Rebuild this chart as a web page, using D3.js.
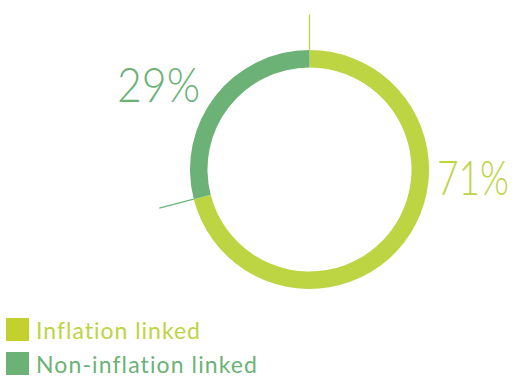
<!DOCTYPE html>
<html>
<head>
<meta charset="utf-8">
<script src="https://cdn.jsdelivr.net/npm/d3@7"></script>
<style>
  html, body { margin: 0; padding: 0; background: #fff; }
  svg { display: block; }
  text { font-variant-ligatures: none; }
</style>
</head>
<body>
<svg id="chart" width="515" height="380"></svg>
<script>
// Share of debt by type
const categories = ["Inflation linked", "Non-inflation linked"];
const shares = [71, 29];
const labels = ["71%", "29%"];
const ringColors = ["#BDD443", "#6CB277"];
const legendColors = ["#C2D12E", "#6CB277"];

const svg = d3.select("#chart");
const cx = 309.5, cy = 169.5;
const outerR = 119.5, innerR = 102, tickR = 155;

const pie = d3.pie().sort(null).value(d => d)(shares);
const arc = d3.arc().innerRadius(innerR).outerRadius(outerR);

const g = svg.append("g").attr("transform", `translate(${cx},${cy})`);

g.selectAll("path.slice")
  .data(pie)
  .join("path")
  .attr("class", "slice")
  .attr("d", arc)
  .attr("fill", (d, i) => ringColors[i]);

// Leader line at the start of each slice
g.selectAll("line.lead")
  .data(pie)
  .join("line")
  .attr("class", "lead")
  .attr("x1", d => Math.sin(d.startAngle) * outerR)
  .attr("y1", d => -Math.cos(d.startAngle) * outerR)
  .attr("x2", d => Math.sin(d.startAngle) * tickR)
  .attr("y2", d => -Math.cos(d.startAngle) * tickR)
  .attr("stroke", (d, i) => ringColors[i])
  .attr("stroke-width", 1.3);

// Percentage labels: tall, narrow light figures
const labelPos = [
  { x: 437 - cx, y: 195 - cy, w: 72 },
  { x: 117 - cx, y: 102 - cy, w: 83 }
];
g.selectAll("text.pct")
  .data(pie)
  .join("text")
  .attr("class", "pct")
  .attr("transform", (d, i) => `translate(${labelPos[i].x},${labelPos[i].y}) scale(1,1.17)`)
  .attr("textLength", (d, i) => labelPos[i].w)
  .attr("lengthAdjust", "spacingAndGlyphs")
  .attr("fill", (d, i) => ringColors[i])
  .style("font-family", "Lato, 'Open Sans', sans-serif")
  .style("font-weight", 300)
  .style("font-size", "40px")
  .text((d, i) => labels[i]);

// Legend
const legendWidths = [164, 221];
const legend = svg.append("g").attr("transform", "translate(6,318)");
const row = legend.selectAll("g")
  .data(categories)
  .join("g")
  .attr("transform", (d, i) => `translate(0,${i * 34})`);
row.append("rect")
  .attr("width", 23).attr("height", 23)
  .attr("fill", (d, i) => legendColors[i]);
row.append("text")
  .attr("x", 30).attr("y", 21)
  .attr("textLength", (d, i) => legendWidths[i])
  .attr("lengthAdjust", "spacing")
  .attr("fill", (d, i) => ringColors[i])
  .style("font-family", "Lato, 'Open Sans', sans-serif")
  .style("font-size", "23px")
  .text(d => d);
</script>
</body>
</html>
